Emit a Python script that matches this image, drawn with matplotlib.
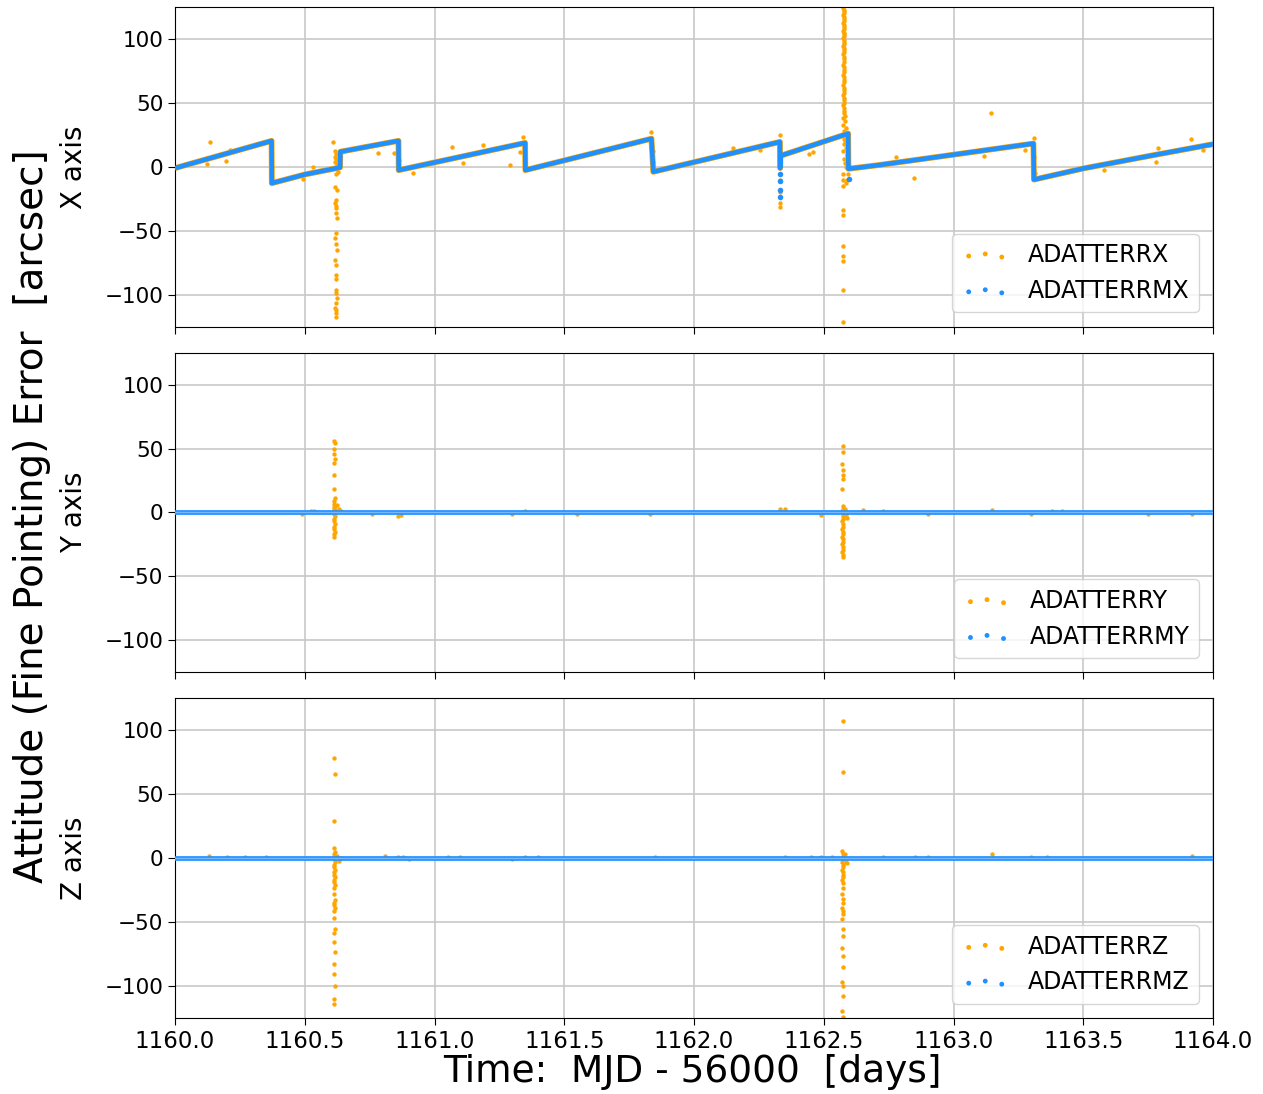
import numpy as np
import matplotlib
matplotlib.use("Agg")
import matplotlib.pyplot as plt

# ---- data (time = MJD - 56000, error in arcsec) ----

# sawtooth of the filtered X error (ADATTERRMX), knots of each ramp
t_mx = [1160.0, 1160.372, 1160.373, 1160.5, 1160.636, 1160.637, 1160.861, 1160.862,
        1161.349, 1161.350, 1161.836, 1161.843, 1162.331, 1162.332, 1162.333,
        1162.594, 1162.595, 1162.597, 1162.717, 1163.308, 1163.310, 1163.5, 1163.757, 1164.0]
x_mx = [-1.0, 20.3, -12.8, -6.0, -0.5, 11.8, 20.3, -2.6,
        18.7, -2.6, 22.0, -3.9, 19.5, -1.0, 8.6,
        26.0, -1.5, -1.5, 1.5, 18.2, -10.0, -1.3, 8.6, 17.7]

# filtered X points that drop out of the sawtooth at 1162.33
t_mb = [1162.331, 1162.332, 1162.331, 1162.332, 1162.596]
x_mb = [-11.0, -18.0, -24.0, -6.0, -9.5]

# raw X error (ADATTERRX) points standing off the sawtooth
t_ox = [1160.135, 1160.122, 1160.197, 1160.212, 1160.370, 1160.371, 1160.372, 1160.371,
        1160.494, 1160.533, 1160.610,
        1160.615, 1160.620, 1160.618, 1160.622, 1160.616, 1160.625, 1160.619, 1160.623, 1160.628,
        1160.621, 1160.617, 1160.624, 1160.620, 1160.618, 1160.622, 1160.619, 1160.624, 1160.617,
        1160.621, 1160.623, 1160.618, 1160.620, 1160.622, 1160.619, 1160.621, 1160.623, 1160.620,
        1160.618, 1160.622, 1160.621, 1160.620, 1160.622, 1160.619, 1160.621,
        1160.783, 1160.843, 1160.861, 1160.862, 1160.918, 1161.066, 1161.111, 1161.188, 1161.291,
        1161.330, 1161.342, 1161.350, 1161.835, 1161.840, 1161.842,
        1162.152, 1162.255, 1162.331, 1162.331, 1162.330, 1162.332, 1162.331, 1162.442, 1162.460,
        1162.590, 1162.585, 1162.593, 1162.588,
        1162.777, 1162.849, 1163.116, 1163.146, 1163.276, 1163.311, 1163.312, 1163.313,
        1163.580, 1163.779, 1163.790, 1163.916, 1163.962]
y_ox = [19.5, 2.0, 4.7, 13.5, 14.0, 8.0, 0.0, -8.0,
        -9.6, 0.0, 19.5,
        12.0, 10.0, 8.0, 6.0, 4.0, 2.0, 0.0, -2.0, -4.0,
        -6.0, -15.6, -18.2, -26.0, -28.6, -32.6, -36.5, -40.4, -56.0,
        -60.0, -65.0, -73.0, -76.8, -84.9, -96.4, -99.0, -102.9, -106.8,
        -110.7, -114.0, -117.2, -31.0, -52.0, -88.0, -112.0,
        10.9, 10.9, 15.0, 5.0, -5.2, 15.6, 3.1, 16.9, 1.3,
        11.7, 23.4, 8.0, 27.3, 12.0, 4.0,
        14.8, 13.0, 24.7, -31.3, -28.6, -19.5, -10.4, 9.9, 11.7,
        -10.4, -13.0, -6.0, 3.0,
        7.8, -8.6, 8.3, 42.2, 13.5, 22.9, 7.8, -5.0,
        -2.6, 3.9, 14.8, 21.6, 13.0]

# raw X column of the big excursion at 1162.58 (dense from the top down to zero)
t_spk = [1162.576, 1162.578, 1162.577, 1162.579, 1162.576, 1162.578, 1162.577, 1162.579,
         1162.576, 1162.578, 1162.577, 1162.579, 1162.576, 1162.578, 1162.577, 1162.579,
         1162.576, 1162.578, 1162.577, 1162.579, 1162.576, 1162.578, 1162.577, 1162.579,
         1162.576, 1162.578, 1162.577, 1162.579, 1162.576, 1162.578, 1162.577, 1162.579,
         1162.576, 1162.578, 1162.577, 1162.579, 1162.576, 1162.578, 1162.577, 1162.579,
         1162.576, 1162.578, 1162.577, 1162.579, 1162.576, 1162.578, 1162.577, 1162.579,
         1162.580, 1162.576, 1162.582, 1162.575, 1162.584, 1162.578, 1162.586, 1162.577,
         1162.583, 1162.579, 1162.585, 1162.576, 1162.588, 1162.577, 1162.581, 1162.584,
         1162.575, 1162.574, 1162.575, 1162.574, 1162.575, 1162.574, 1162.575, 1162.576,
         1162.575, 1162.574]
y_spk = [124.5, 123.0, 121.5, 120.0, 118.5, 117.0, 115.5, 114.0,
         112.5, 111.0, 109.5, 108.0, 106.5, 105.0, 103.5, 102.0,
         100.5, 99.0, 97.5, 96.0, 94.5, 93.0, 91.5, 90.0,
         88.0, 86.0, 84.0, 82.0, 80.0, 78.0, 76.0, 74.0,
         72.0, 70.0, 68.0, 66.0, 64.0, 62.0, 60.0, 58.0,
         56.0, 54.0, 52.0, 50.0, 48.0, 46.0, 44.0, 42.0,
         40.0, 38.0, 36.0, 33.0, 30.0, 28.0, 25.0, 22.0,
         20.0, 18.0, 15.0, 12.0, 9.0, 6.0, 3.0, 0.0,
         -6.0, -10.0, -15.0, -34.0, -38.0, -62.0, -70.0, -74.0,
         -96.0, -121.0]

# filtered Y / Z errors sit on zero across the whole span
t_flat = [1160.0, 1164.0]
y_my = [0.0, 0.0]
z_mz = [0.0, 0.0]

# raw Y error (ADATTERRY) outliers
t_oy = [1160.614, 1160.615, 1160.613, 1160.614, 1160.615, 1160.614, 1160.613, 1160.614,
        1160.615, 1160.614, 1160.613, 1160.615, 1160.614, 1160.613, 1160.615, 1160.614,
        1160.613, 1160.615, 1160.614, 1160.613, 1160.615, 1160.614, 1160.613, 1160.615,
        1160.614, 1160.613, 1160.625, 1160.632, 1160.638,
        1162.573, 1162.574, 1162.572, 1162.573, 1162.574, 1162.573, 1162.572, 1162.573,
        1162.574, 1162.572, 1162.573, 1162.574, 1162.573, 1162.572, 1162.574, 1162.573,
        1162.572, 1162.574, 1162.573, 1162.572, 1162.574, 1162.573, 1162.572, 1162.574,
        1162.573, 1162.572, 1162.574, 1162.573, 1162.580, 1162.585, 1162.590,
        1160.488, 1160.525, 1160.535, 1160.758, 1160.860, 1160.870, 1161.300, 1161.350,
        1161.550, 1161.830, 1162.330, 1162.350, 1162.490, 1162.650, 1162.730, 1162.900,
        1163.150, 1163.300, 1163.380, 1163.420, 1163.750, 1163.920]
y_oy = [56.0, 54.0, 50.0, 46.0, 42.0, 38.5, 29.0, 18.0,
        11.0, 9.0, 7.0, 5.0, 4.0, 3.0, 2.0, 1.0,
        -1.0, -3.0, -5.0, -7.0, -9.0, -11.0, -13.0, -15.0,
        -17.0, -19.0, 6.0, 3.0, 1.5,
        52.0, 47.0, 38.0, 33.0, 29.0, 26.0, 18.5, 5.0,
        3.0, 1.0, -1.0, -3.0, -5.0, -7.0, -9.0, -11.0,
        -13.0, -15.0, -17.0, -19.0, -21.0, -23.0, -25.0, -27.0,
        -29.0, -31.0, -33.0, -35.0, 3.0, -2.0, -4.0,
        -1.5, 1.5, 1.5, -1.5, -3.0, -2.0, -1.5, 1.5,
        -1.0, -1.0, 2.5, 3.0, -2.3, 2.0, 1.5, -1.0,
        2.0, -1.5, 1.5, 1.5, -1.0, -1.5]

# raw Z error (ADATTERRZ) outliers
t_oz = [1160.614, 1160.615, 1160.613, 1160.614, 1160.615, 1160.614, 1160.613, 1160.614,
        1160.615, 1160.614, 1160.613, 1160.615, 1160.614, 1160.613, 1160.615, 1160.614,
        1160.613, 1160.615, 1160.614, 1160.613, 1160.615, 1160.614, 1160.613, 1160.615,
        1160.614, 1160.613, 1160.615, 1160.614, 1160.613, 1160.615, 1160.614, 1160.613,
        1160.615, 1160.614, 1160.613, 1160.625, 1160.632, 1160.640,
        1162.573, 1162.574, 1162.572, 1162.573, 1162.574, 1162.573, 1162.572, 1162.573,
        1162.574, 1162.572, 1162.573, 1162.574, 1162.573, 1162.572, 1162.574, 1162.573,
        1162.572, 1162.574, 1162.573, 1162.572, 1162.574, 1162.573, 1162.572, 1162.574,
        1162.573, 1162.572, 1162.574, 1162.573, 1162.572, 1162.574, 1162.573, 1162.572,
        1162.574, 1162.580, 1162.585, 1162.590,
        1160.130, 1160.200, 1160.270, 1160.350, 1160.810, 1160.860, 1160.880, 1160.900,
        1161.050, 1161.100, 1161.300, 1161.350, 1161.400, 1161.850, 1162.350, 1162.450,
        1162.490, 1162.530, 1162.730, 1162.850, 1162.900, 1163.150, 1163.300, 1163.360,
        1163.920]
y_oz = [78.4, 66.1, 28.9, 8.0, 5.0, 3.0, 1.0, -1.0,
        -3.0, -5.0, -7.0, -9.0, -11.0, -13.0, -15.0, -17.0,
        -19.0, -21.0, -23.0, -28.4, -33.0, -35.0, -37.0, -39.0,
        -41.4, -46.6, -55.2, -58.3, -65.6, -73.2, -83.0, -90.9,
        -100.0, -110.4, -114.3, 2.0, -2.0, 0.5,
        107.0, 67.4, 5.5, 3.0, 1.0, -1.0, -3.0, -5.0,
        -7.0, -9.0, -11.0, -13.0, -15.0, -17.0, -19.3, -23.2,
        -28.4, -32.3, -35.0, -38.9, -41.4, -44.0, -47.9, -55.2,
        -60.9, -70.5, -76.6, -85.2, -96.9, -100.0, -107.8, -119.5,
        -124.0, 3.0, -3.0, -4.0,
        1.5, 1.0, 1.0, 1.0, 1.5, 1.0, 1.0, -1.0,
        1.0, 1.0, -1.0, 1.0, 1.0, 1.0, 1.0, 1.0,
        1.0, 1.0, 1.0, 1.0, 1.0, 3.0, 1.0, 1.0,
        2.0]

panel_names = ["X axis", "Y axis", "Z axis"]
raw_labels = ["ADATTERRX", "ADATTERRY", "ADATTERRZ"]
flt_labels = ["ADATTERRMX", "ADATTERRMY", "ADATTERRMZ"]
x_ticks = [1160.0, 1160.5, 1161.0, 1161.5, 1162.0, 1162.5, 1163.0, 1163.5, 1164.0]
y_ticks = [-100, -50, 0, 50, 100]

# ---- plotting ----
plt.rcParams["font.family"] = ["DejaVu Sans"]
orange = "orange"
blue = "dodgerblue"
dot = 10

fig, axes = plt.subplots(3, 1, sharex=True, figsize=(12.63, 10.94), dpi=100)
fig.subplots_adjust(left=0.1386, right=0.9604, top=0.9936, bottom=0.0695, hspace=0.0815)

raw_t = [t_ox + t_spk, t_oy, t_oz]
raw_v = [y_ox + y_spk, y_oy, y_oz]
flt_t = [t_mx, t_flat, t_flat]
flt_v = [x_mx, y_my, z_mz]

for i, ax in enumerate(axes):
    if i == 0:
        # raw series runs under the filtered sawtooth, shows as a thin fringe
        ax.plot(flt_t[i], flt_v[i], color=orange, lw=4.2, zorder=2)
    ax.scatter(raw_t[i], raw_v[i], s=dot, color=orange, linewidths=0, zorder=2,
               label=raw_labels[i])
    if i == 0:
        ax.plot(flt_t[i], flt_v[i], color=blue, lw=3.3, zorder=3)
        ax.scatter(t_mb, x_mb, s=dot * 1.6, color=blue, linewidths=0, zorder=3)
    else:
        ax.plot(flt_t[i], flt_v[i], color=blue, lw=3.4, zorder=3)
        ax.plot(flt_t[i], flt_v[i], color="#74b9ff", lw=1.0, zorder=3)
    ax.scatter([], [], s=dot, color=blue, linewidths=0, label=flt_labels[i])

    ax.set_xlim(1160, 1164)
    ax.set_ylim(-125, 125)
    ax.set_yticks(y_ticks)
    ax.set_xticks(x_ticks)
    ax.grid(True, color="#c8c8c8", lw=1.2)
    ax.set_axisbelow(True)
    ax.tick_params(labelsize=15.5, length=5)
    ax.set_ylabel(panel_names[i], fontsize=20)
    ax.yaxis.set_label_coords(-0.084, 0.5)
    leg = ax.legend(loc="lower right", fontsize=17, scatterpoints=3,
                    scatteryoffsets=[0.375, 0.5, 0.3125], markerscale=1.1,
                    borderaxespad=0.6)

axes[-1].set_xticklabels(["%.1f" % v for v in x_ticks], fontsize=16.5)

fig.text(0.0253, 0.528, "Attitude (Fine Pointing) Error  [arcsec]", rotation=90,
         ha="center", va="center", fontsize=28)
fig.text(0.548, 0.004, "Time:  MJD - 56000  [days]", ha="center", va="bottom",
         fontsize=27)

fig.savefig("out.png", dpi=100)
